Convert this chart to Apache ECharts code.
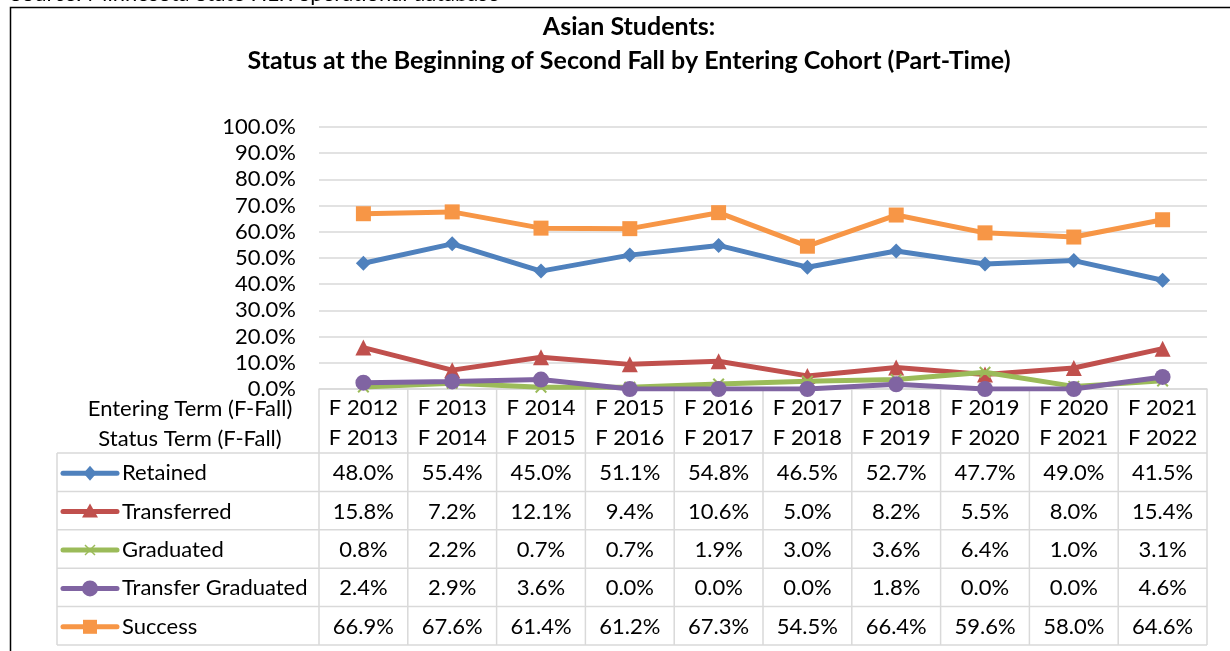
<!DOCTYPE html>
<html>
<head>
<meta charset="utf-8">
<script src="https://cdn.jsdelivr.net/npm/echarts@6/dist/echarts.min.js"></script>
<style>
  html, body { margin: 0; padding: 0; background: #fff; }
  #chart { width: 1230px; height: 651px; }
</style>
</head>
<body>
<div id="chart"></div>
<script>
// Cohort labels
const enteringTerms = ['F 2012', 'F 2013', 'F 2014', 'F 2015', 'F 2016', 'F 2017', 'F 2018', 'F 2019', 'F 2020', 'F 2021'];
const statusTerms   = ['F 2013', 'F 2014', 'F 2015', 'F 2016', 'F 2017', 'F 2018', 'F 2019', 'F 2020', 'F 2021', 'F 2022'];

// Outcome rates (%)
const retained          = [48.0, 55.4, 45.0, 51.1, 54.8, 46.5, 52.7, 47.7, 49.0, 41.5];
const transferred       = [15.8, 7.2, 12.1, 9.4, 10.6, 5.0, 8.2, 5.5, 8.0, 15.4];
const graduated         = [0.8, 2.2, 0.7, 0.7, 1.9, 3.0, 3.6, 6.4, 1.0, 3.1];
const transferGraduated = [2.4, 2.9, 3.6, 0.0, 0.0, 0.0, 1.8, 0.0, 0.0, 4.6];
const success           = [66.9, 67.6, 61.4, 61.2, 67.3, 54.5, 66.4, 59.6, 58.0, 64.6];

const seriesNames = ['Retained', 'Transferred', 'Graduated', 'Transfer Graduated', 'Success'];
const seriesColors = ['#4F81BD', '#C0504D', '#9BBB59', '#8064A2', '#F79646'];
const seriesData = [retained, transferred, graduated, transferGraduated, success];

const FONT = 'Lato, "Liberation Sans", sans-serif';
const FS = 22;
const GRID_LINE = '#d9d9d9';

const xPath = 'path://M0,1.2L1.2,0L5,3.8L8.8,0L10,1.2L6.2,5L10,8.8L8.8,10L5,6.2L1.2,10L0,8.8L3.8,5Z';
const symbols = ['diamond', 'triangle', xPath, 'circle', 'rect'];
const symbolSizes = [15, 16, 12, 16, 15];

const chart = echarts.init(document.getElementById('chart'), null, { renderer: 'canvas' });

const grid = { left: 319, right: 23, top: 127, bottom: 262 };

chart.setOption({
  animation: false,
  grid: grid,
  xAxis: {
    type: 'category',
    data: enteringTerms,
    boundaryGap: true,
    axisLine: { show: true, lineStyle: { color: GRID_LINE, width: 1.5 } },
    axisTick: { show: false },
    axisLabel: {
      interval: 0,
      hideOverlap: false,
      margin: 4,
      fontFamily: FONT,
      fontSize: FS,
      color: '#000',
      lineHeight: 30,
      formatter: (v, i) => v + '\n' + statusTerms[i]
    }
  },
  yAxis: {
    type: 'value',
    min: 0,
    max: 100,
    interval: 10,
    axisLine: { show: false },
    axisTick: { show: false },
    splitLine: { lineStyle: { color: GRID_LINE, width: 1.5 } },
    axisLabel: {
      margin: 23,
      fontFamily: FONT,
      fontSize: FS,
      color: '#000',
      formatter: v => v.toFixed(1) + '%'
    }
  },
  series: seriesNames.map((name, i) => ({
    name: name,
    type: 'line',
    data: seriesData[i],
    symbol: symbols[i],
    symbolSize: symbolSizes[i],
    showSymbol: true,
    lineStyle: { color: seriesColors[i], width: 5 },
    itemStyle: { color: seriesColors[i] },
    z: 2 + i
  }))
});

// Data table under the plot, aligned to the category axis
function buildGraphics() {
  const g = [];
  const y0 = chart.convertToPixel({ yAxisIndex: 0 }, 0);
  const xLeft = grid.left;
  const xRight = 1230 - grid.right;
  const colW = (xRight - xLeft) / enteringTerms.length;
  const labelLeft = 57;
  const headerBottom = 453;
  const rowH = 38.4;
  const lineStyle = { stroke: GRID_LINE, lineWidth: 1.5 };
  const font = FS + 'px ' + FONT;

  // chart frame and title
  g.push({ type: 'rect', shape: { x: 10.5, y: 7.5, width: 1300, height: 700 },
           style: { fill: 'none', stroke: '#000', lineWidth: 1.5 }, z: 0, silent: true });
  g.push({ type: 'text', x: 10, y: -6,
           style: { text: 'Source: Minnesota State HLR operational database', font: font,
                    fill: '#000', textVerticalAlign: 'middle' } });
  g.push({ type: 'text', x: 629, y: 27,
           style: { text: 'Asian Students:', font: 'bold 25px ' + FONT, fill: '#000',
                    textAlign: 'center', textVerticalAlign: 'middle' } });
  g.push({ type: 'text', x: 629, y: 61,
           style: { text: 'Status at the Beginning of Second Fall by Entering Cohort (Part-Time)',
                    font: 'bold 25px ' + FONT, fill: '#000', textAlign: 'center', textVerticalAlign: 'middle' } });

  // header row captions
  g.push({ type: 'text', x: 190, y: 409,
           style: { text: 'Entering Term (F-Fall)', font: font, fill: '#000',
                    textAlign: 'center', textVerticalAlign: 'middle' } });
  g.push({ type: 'text', x: 190, y: 439,
           style: { text: 'Status Term (F-Fall)', font: font, fill: '#000',
                    textAlign: 'center', textVerticalAlign: 'middle' } });

  // vertical rules
  for (let k = 0; k <= enteringTerms.length; k++) {
    const x = xLeft + k * colW;
    g.push({ type: 'line', shape: { x1: x, y1: y0, x2: x, y2: headerBottom + rowH * seriesNames.length },
             style: lineStyle, silent: true });
  }
  g.push({ type: 'line', shape: { x1: labelLeft, y1: headerBottom, x2: labelLeft, y2: headerBottom + rowH * seriesNames.length },
           style: lineStyle, silent: true });

  // horizontal rules
  for (let r = 0; r <= seriesNames.length; r++) {
    const y = headerBottom + r * rowH;
    g.push({ type: 'line', shape: { x1: labelLeft, y1: y, x2: xRight, y2: y }, style: lineStyle, silent: true });
  }

  // rows
  seriesNames.forEach((name, i) => {
    const cy = headerBottom + (i + 0.5) * rowH + 1;
    const color = seriesColors[i];
    // legend key
    g.push({ type: 'line', shape: { x1: 63, y1: cy, x2: 117, y2: cy },
             style: { stroke: color, lineWidth: 5, lineCap: 'round' }, silent: true });
    const mx = 90;
    if (i === 0) {
      g.push({ type: 'polygon', shape: { points: [[mx, cy - 7.5], [mx + 6.5, cy], [mx, cy + 7.5], [mx - 6.5, cy]] },
               style: { fill: color } });
    } else if (i === 1) {
      g.push({ type: 'polygon', shape: { points: [[mx, cy - 8], [mx + 8, cy + 6], [mx - 8, cy + 6]] },
               style: { fill: color } });
    } else if (i === 2) {
      g.push({ type: 'line', shape: { x1: mx - 5, y1: cy - 5, x2: mx + 5, y2: cy + 5 }, style: { stroke: color, lineWidth: 1.5 } });
      g.push({ type: 'line', shape: { x1: mx - 5, y1: cy + 5, x2: mx + 5, y2: cy - 5 }, style: { stroke: color, lineWidth: 1.5 } });
    } else if (i === 3) {
      g.push({ type: 'circle', shape: { cx: mx, cy: cy, r: 8 }, style: { fill: color } });
    } else {
      g.push({ type: 'rect', shape: { x: mx - 7, y: cy - 7, width: 14, height: 14 }, style: { fill: color } });
    }
    g.push({ type: 'text', x: 122, y: cy,
             style: { text: name, font: font, fill: '#000', textVerticalAlign: 'middle' } });
    // values
    seriesData[i].forEach((v, j) => {
      const cx = chart.convertToPixel({ xAxisIndex: 0 }, enteringTerms[j]);
      g.push({ type: 'text', x: cx, y: cy,
               style: { text: v.toFixed(1) + '%', font: font, fill: '#000',
                        textAlign: 'center', textVerticalAlign: 'middle' } });
    });
  });
  return g;
}

chart.setOption({ graphic: buildGraphics() });
</script>
</body>
</html>
